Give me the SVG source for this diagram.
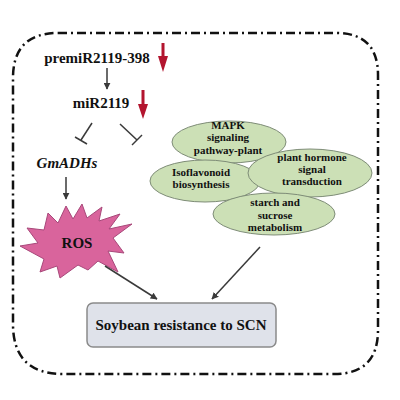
<svg xmlns="http://www.w3.org/2000/svg" width="400" height="400" viewBox="0 0 400 400">
<defs>
<marker id="ah" viewBox="0 0 10 10" refX="9" refY="5" markerWidth="7" markerHeight="7" markerUnits="userSpaceOnUse" orient="auto">
<path d="M0,0 L10,5 L0,10 z" fill="#3a3a3a"/>
</marker>
<style>
.t{font-family:"Liberation Serif","Times New Roman",serif;font-weight:bold;fill:#111;text-anchor:middle}
.big{font-size:15px}
.sm{font-size:11px}
.ell{fill:#cce0b6;stroke:#7e8c77;stroke-width:1}
.con{stroke:#3a3a3a;stroke-width:1.5;fill:none}
.red{fill:#b3152f}
</style>
</defs>
<rect x="0" y="0" width="400" height="400" fill="#fff"/>
<path d="M58,33 H336 Q378,33 378,75 V330 Q378,374 334,374 H63 Q13,374 13,324 V78 Q13,33 58,33 Z" fill="none" stroke="#111" stroke-width="2.5" stroke-dasharray="9 4 2 4"/>

<g id="premiR">
<text class="t big" x="97" y="63">premiR2119-398</text>
<rect class="red" x="161.5" y="43" width="3" height="16"/>
<polygon class="red" points="158,56 168,56 163,72"/>
</g>
<g id="miR2119">
<text class="t big" x="101" y="108">miR2119</text>
<rect class="red" x="141.5" y="90" width="3" height="16"/>
<polygon class="red" points="138,104 148,104 143,119"/>
</g>
<g id="GmADHs">
<text class="t big" x="67" y="168" font-style="italic">GmADHs</text>
</g>
<g id="ROS">
<polygon points="48,213 58,223 66,206 73,219 82,204 87,218 102,207 99,221 120,214 109,229 132,224 113,238 124,253 108,251 118,272 98,261 88,270 78,265 60,278 57,266 40,272 44,259 20,246 38,243 27,228 44,230" fill="#d9649c" stroke="#a8487a" stroke-width="1"/>
<text class="t big" x="77" y="248">ROS</text>
</g>
<g id="MAPK">
<ellipse class="ell" cx="229" cy="142" rx="57" ry="21"/>
<text class="t sm" x="228" y="129">MAPK</text>
<text class="t sm" x="228" y="141">signaling</text>
<text class="t sm" x="228" y="154">pathway-plant</text>
</g>
<g id="Isoflavonoid">
<ellipse class="ell" cx="205" cy="181" rx="55" ry="21"/>
<text class="t sm" x="201" y="176">Isoflavonoid</text>
<text class="t sm" x="201" y="188">biosynthesis</text>
</g>
<g id="hormone">
<ellipse class="ell" cx="310" cy="173" rx="62" ry="24"/>
<text class="t sm" x="312" y="161">plant hormone</text>
<text class="t sm" x="312" y="173">signal</text>
<text class="t sm" x="312" y="185">transduction</text>
</g>
<g id="starch">
<ellipse class="ell" cx="274" cy="214" rx="61" ry="21"/>
<text class="t sm" x="275" y="206">starch and</text>
<text class="t sm" x="275" y="219">sucrose</text>
<text class="t sm" x="275" y="231">metabolism</text>
</g>
<g id="soybean">
<rect x="87" y="303" width="189" height="44" rx="6" fill="#dfe2ea" stroke="#8a8a8a" stroke-width="1.5"/>
<text class="t big" x="181" y="330">Soybean resistance to SCN</text>
</g>

<g id="connectors">
<line class="con" x1="107" y1="68" x2="107" y2="89" marker-end="url(#ah)"/>
<line class="con" x1="92" y1="123" x2="81" y2="140"/>
<line class="con" x1="75" y1="137" x2="87" y2="144"/>
<line class="con" x1="120" y1="124" x2="137" y2="140"/>
<line class="con" x1="132" y1="145" x2="142" y2="135"/>
<line class="con" x1="66" y1="177" x2="66" y2="199" marker-end="url(#ah)"/>
<line class="con" x1="105" y1="266" x2="157" y2="299" marker-end="url(#ah)"/>
<line class="con" x1="260" y1="247" x2="212" y2="299" marker-end="url(#ah)"/>
</g>
</svg>
